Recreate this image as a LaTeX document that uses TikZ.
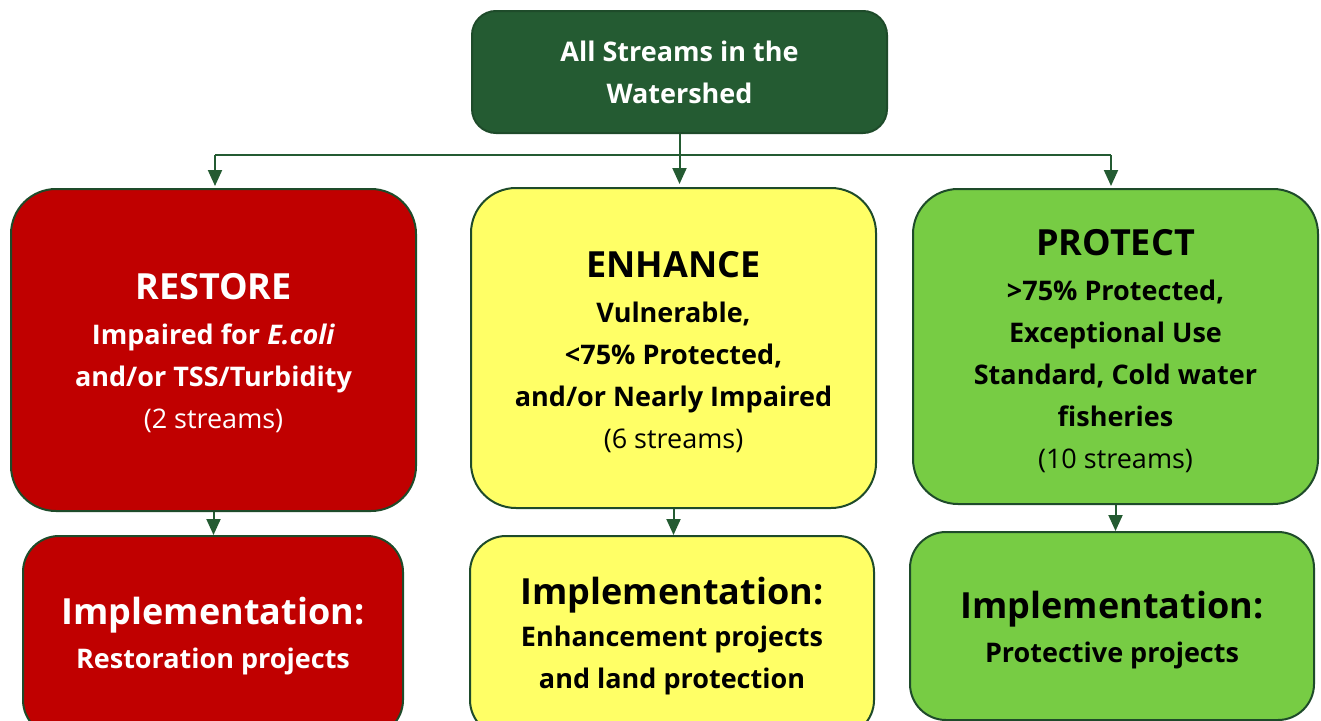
\documentclass[tikz,border=0pt]{standalone}
\usepackage{fontspec}
\setmainfont{Open Sans}
\usetikzlibrary{arrows.meta}
\definecolor{dkgreen}{HTML}{245B32}
\definecolor{edgegreen}{HTML}{1E4B2A}
\definecolor{rred}{HTML}{C00000}
\definecolor{yyellow}{HTML}{FFFF66}
\definecolor{lgreen}{HTML}{77CC44}
\begin{document}
\begin{tikzpicture}[x=1pt,y=-1pt,
  box/.style={draw=edgegreen, line width=2pt, anchor=north west, align=center, inner sep=0pt,
    font=\fontsize{27}{42}\selectfont\bfseries},
  conn/.style={draw=dkgreen, line width=2pt},
  arr/.style={conn, -{Triangle[width=14pt,length=16pt]}},
  big/.style={rounded corners=45pt},
  impl/.style={rounded corners=36pt}
]
\clip (0,0) rectangle (1321,720);
\fill[white] (0,0) rectangle (1321,720);

\node[box, fill=dkgreen, text=white, rounded corners=24pt, minimum width=415pt, minimum height=122pt]
  (top) at (471,10) {All Streams in the\\Watershed};

\node[box, big, fill=rred, text=white, minimum width=405pt, minimum height=322pt]
  (res) at (10,188) {{\fontsize{36}{44}\selectfont\rule{0pt}{33pt}RESTORE}\\[3pt]
  Impaired for \textit{E.coli}\\and/or TSS/Turbidity\\{\mdseries (2 streams)}};

\node[box, big, fill=yyellow, text=black, minimum width=405pt, minimum height=320pt]
  (enh) at (470,187) {{\fontsize{36}{44}\selectfont\rule{0pt}{34pt}ENHANCE}\\[3pt]
  Vulnerable,\\<75\% Protected,\\and/or Nearly Impaired\\{\mdseries (6 streams)}};

\node[box, big, fill=lgreen, text=black, minimum width=405pt, minimum height=315pt]
  (pro) at (912,188) {{\fontsize{36}{44}\selectfont\rule{0pt}{35pt}PROTECT}\\[3pt]
  >75\% Protected,\\Exceptional Use\\Standard, Cold water\\fisheries\\{\mdseries (10 streams)}};

\node[box, impl, fill=rred, text=white, minimum width=380pt, minimum height=200pt]
  (resi) at (22,535) {{\fontsize{36}{44}\selectfont Implementation:}\\[2pt]Restoration projects};

\node[box, impl, fill=yyellow, text=black, minimum width=404pt, minimum height=200pt]
  (enhi) at (469,535) {{\fontsize{36}{44}\selectfont Implementation:}\\[0pt]Enhancement projects\\and land protection};

\node[box, impl, fill=lgreen, text=black, minimum width=404pt, minimum height=188pt]
  (proi) at (909,531) {{\fontsize{36}{44}\selectfont\rule{0pt}{36pt}Implementation:}\\[2pt]Protective projects};

\coordinate (hl) at (215,155);
\coordinate (hr) at (1111,155);
\draw[conn] (hl) -- (hr);
\draw[arr, shorten >=3pt] (top.south) -- (top.south |- enh.north);
\draw[arr, shorten >=2pt] (hl) -- (hl |- res.north);
\draw[arr, shorten >=2pt] (hr) -- (hr |- pro.north);

\draw[arr] (res.south) -- (res.south |- resi.north);
\draw[arr] (enh.south) -- (enh.south |- enhi.north);
\draw[arr] (pro.south) -- (pro.south |- proi.north);
\end{tikzpicture}
\end{document}
